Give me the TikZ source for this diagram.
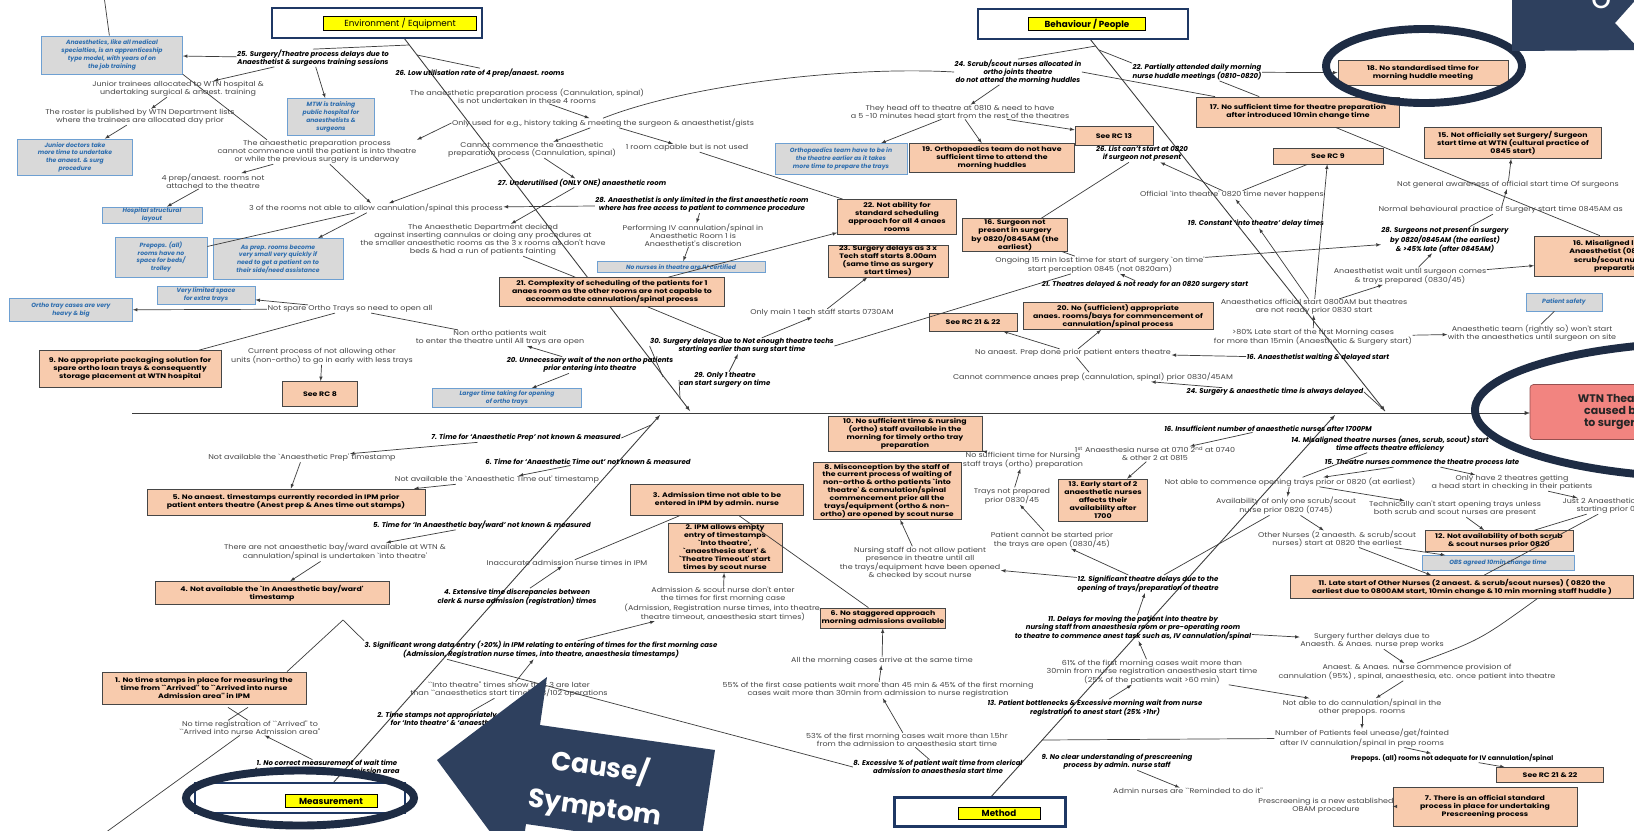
\documentclass[tikz,border=0pt]{standalone}
\usepackage{fontspec}
\setmainfont{Poppins}
\newfontfamily\widefont{Poppins}[FakeStretch=1.15]
\newfontfamily\boxfont{Poppins}[FakeStretch=1.2]
\usetikzlibrary{arrows,shapes,calc}
\definecolor{navy}{RGB}{46,64,94}
\definecolor{ringnavy}{RGB}{30,44,68}
\definecolor{catnavy}{RGB}{31,56,100}
\definecolor{peach}{RGB}{248,203,173}
\definecolor{boxline}{RGB}{70,70,70}
\definecolor{notefill}{RGB}{217,217,217}
\definecolor{noteline}{RGB}{110,160,210}
\definecolor{notetext}{RGB}{46,110,175}
\definecolor{txtgrey}{RGB}{70,70,70}
\definecolor{lngrey}{RGB}{60,60,60}
\definecolor{labyellow}{RGB}{255,255,0}
\definecolor{redbox}{RGB}{242,132,128}
\definecolor{redline}{RGB}{150,80,80}

\tikzset{
  tx/.style={align=center,inner sep=0.5pt,text=txtgrey,font=\widefont\fontsize{7.9}{9.1}\selectfont},
  bi/.style={align=center,inner sep=0.5pt,text=black,font=\fontsize{7.9}{9.1}\selectfont\bfseries\itshape},
  rc/.style 2 args={draw=boxline,fill=peach,line width=0.8pt,align=center,inner sep=1pt,
    font=\boxfont\fontsize{7.4}{9}\selectfont\bfseries,minimum width=#1*0.04cm,minimum height=#2*0.04cm},
  nt/.style 2 args={draw=noteline,fill=notefill,line width=0.8pt,align=center,inner sep=1pt,text=notetext,
    font=\fontsize{6.9}{8.8}\selectfont\bfseries\itshape,minimum width=#1*0.04cm,minimum height=#2*0.04cm},
  cat/.style 2 args={draw=catnavy,line width=2.6pt,fill=white,minimum width=#1*0.04cm,minimum height=#2*0.04cm},
  lab/.style 2 args={draw=black,fill=labyellow,line width=0.6pt,inner sep=0.5pt,
    minimum width=#1*0.04cm,minimum height=#2*0.04cm,font=\fontsize{10}{12}\selectfont},
  ln/.style={draw=lngrey,line width=0.8pt},
  ar/.style={ln,-latex},
  ring/.style={draw=ringnavy,line width=9pt},
}

\begin{document}
\begin{tikzpicture}[x=0.04cm,y=-0.04cm]
\useasboundingbox (0,0) rectangle (1634,830);
\clip (0,0) rectangle (1634,830);
\fill[white] (0,0) rectangle (1634,830);

% spine and main bones
\coordinate (spS) at (132,413); \coordinate (spE) at (1530,413);
\coordinate (envS) at (404,38); \coordinate (envE) at (690,411);
\coordinate (behS) at (1090,39); \coordinate (behE) at (1385,411);
\coordinate (meaS) at (333,783); \coordinate (meaE) at (660,415);
\coordinate (metS) at (990,798); \coordinate (metE) at (1335,415);
\coordinate (offTL) at (104,-4); \coordinate (offBL) at (98,838); \coordinate (offR) at (1645,340);
\coordinate (eb1) at (409,45); \coordinate (eb2) at (417,55);
\coordinate (eb4) at (663,377); \coordinate (eb5) at (680,398);
\coordinate (bb1) at (1096,46); \coordinate (bb2) at (1099,50);
\coordinate (mb7) at (651,425); \coordinate (mt1) at (1042,740);
\coordinate (pk) at (343,620);
\draw[ln,line width=1.1pt,-latex] (spS) -- (spE);
\draw[ln,line width=1pt,-latex] (envS) -- (envE);
\draw[ln,line width=1pt,-latex] (behS) -- (behE);
\draw[ln,line width=1pt,-latex] (meaS) -- (meaE);
\draw[ln,line width=1pt,-latex] (metS) -- (metE);

% categories
\node[cat={210}{30}] (envcat) at (377,23) {};
\node[lab={153}{14}] (envlab) at (400,23) {Environment / Equipment};
\node[cat={210}{30}] (behcat) at (1083,24) {};
\node[lab={117}{13},font=\fontsize{10}{12}\selectfont\bfseries] (behlab) at (1087,24) {Behaviour / People};
\node[cat={210}{30}] (meacat) at (300,798) {};
\node[lab={92}{13},font=\fontsize{10}{12}\selectfont\bfseries] (mealab) at (331,801) {Measurement};
\node[cat={171}{29}] (metcat) at (980,812) {};
\node[lab={82}{12},font=\fontsize{10}{12}\selectfont\bfseries] (metlab) at (999,813) {Method};

% environment / equipment
\node[nt={141}{38}] (n1) at (112,55) {Anaesthetics, like all medical\\specialties, is an apprenticeship\\type model, with years of on\\the job training};
\node[bi] (e25) at (313,58) {25. Surgery/Theatre process delays due to\\Anaesthetist \& surgeons training sessions};
\node[nt={87}{37}] (n2) at (331,117) {MTW is training\\public hospital for\\anaesthetists \&\\surgeons};
\node[tx] (junior) at (178,89) {Junior trainees allocated to WTN hospital \&\\undertaking surgical \& anaest. training};
\node[tx] (roster) at (140,117) {The roster is published by WTN Department lists\\where the trainees are allocated day prior};
\node[nt={115}{36}] (n3) at (75,157) {Junior doctors take\\more time to undertake\\the anaest. \& surg\\procedure};
\node[tx] (prep1) at (317,152) {The anaesthetic preparation process\\cannot commence until the patient is into theatre\\or while the previous surgery is underway};
\node[bi] (e26) at (480,73) {26. Low utilisation rate of 4 prep/anaest. rooms};
\node[tx] (notund) at (527,96) {The anaesthetic preparation process (Cannulation, spinal)\\is not undertaken in these 4 rooms};
\node[tx] (onlyused) at (603,123) {Only used for e.g., history taking \& meeting the surgeon \& anaesthetist/gists};
\node[tx] (oneroom) at (687,148) {1 room capable but is not used};
\node[tx] (cannot) at (532,150) {Cannot commence the anaesthetic\\preparation process (Cannulation, spinal)};
\node[bi] (e27) at (582,183) {27. Underutilised (ONLY ONE) anaesthetic room};
\node[tx] (rooms3) at (376,208) {3 of the rooms not able to allow cannulation/spinal this process};
\node[bi] (e28) at (702,205) {28. Anaesthetist is only limited in the first anaesthetic room\\where has free access to patient to commence procedure};
\node[tx] (dept) at (483,240) {The Anaesthetic Department decided\\against inserting cannulas or doing any procedures at\\the smaller anaesthetic rooms as the 3 x rooms as don't have\\beds \& had a run of patients fainting};
\node[nt={100}{16}] (n4) at (152,215) {Hospital structural\\layout};
\node[tx] (prep4) at (213,181) {4 prep/anaest. rooms not\\attached to the theatre};
\node[nt={92}{40}] (n5) at (161,257) {Prepops. (all)\\rooms have no\\space for beds/\\trolley};
\node[nt={130}{41}] (n6) at (278,259) {As prep. rooms become\\very small very quickly if\\need to get a patient on to\\their side/need assistance};
\node[nt={98}{18}] (n7) at (206,295) {Very limited space\\for extra trays};
\node[nt={123}{23}] (n8) at (71,310) {Ortho tray cases are very\\heavy \& big};
\node[tx] (spare) at (350,309) {Not spare Ortho Trays so need to open all};
\node[rc={182}{37}] (b9) at (130,369) {9. No appropriate packaging solution for\\spare ortho loan trays \& consequently\\storage placement at WTN hospital};
\node[tx] (current) at (322,356) {Current process of not allowing other\\units (non-ortho) to go in early with less trays};
\node[rc={75}{25}] (rc8) at (320,394) {See RC 8};
\node[tx] (nonortho) at (500,338) {Non ortho patients wait\\to enter the theatre until All trays are open};
\node[bi] (e20) at (590,365) {20. Unnecessary wait of the non ortho patients\\prior entering into theatre};
\node[nt={149}{19}] (n9) at (507,398) {Larger time taking for opening\\of ortho trays};
\node[bi] (e30) at (742,346) {30. Surgery delays due to Not enough theatre techs\\starting earlier than surg start time};
\node[bi] (e29) at (725,380) {29. Only 1 theatre\\can start surgery on time};
\node[tx] (tech) at (822,313) {Only main 1 tech staff starts 0730AM};
\node[rc={225}{29}] (b21) at (612,292) {21. Complexity of scheduling of the patients for 1\\anaes room as the other rooms are not capable to\\accommodate cannulation/spinal process};
\node[nt={168}{11}] (n10) at (681,267) {No nurses in theatre are IV certified};
\node[tx] (perf) at (693,235) {Performing IV cannulation/spinal in\\Anaesthetic Room 1 is\\Anaesthetist's discretion};
\node[rc={119}{35}] (b22) at (897,217) {22. Not ability for\\standard scheduling\\approach for all 4 anaes\\rooms};
\node[rc={120}{32}] (b23) at (888,261) {23. Surgery delays as 3 x\\Tech staff starts 8.00am\\(same time as surgery\\start times)};

% behaviour / people
\node[nt={132}{31}] (n11) at (841,159) {Orthopaedics team have to be in\\the theatre earlier as it takes\\more time to prepare the trays};
\node[rc={165}{29}] (b19) at (992,158) {19. Orthopaedics team do not have\\sufficient time to attend the\\morning huddles};
\node[rc={78}{19}] (rc13) at (1114,136) {See RC 13};
\node[tx] (head) at (960,112) {They head off to theatre at 0810 \& need to have\\a 5 -10 minutes head start from the rest of the theatres};
\node[bi] (b24) at (1018,72) {24. Scrub/scout nurses allocated in\\ortho joints theatre\\do not attend the morning huddles};
\node[bi] (b22l) at (1197,72) {22. Partially attended daily morning\\nurse huddle meetings (0810-0820)};
\node[rc={170}{25}] (b18) at (1423,73) {18. No standardised time for\\morning huddle meeting};
\node[rc={203}{30}] (b17) at (1298,112) {17. No sufficient time for theatre preparation\\after introduced 10min change time};
\node[rc={110}{16}] (rc9) at (1328,156) {See RC 9};
\node[rc={177}{31}] (b15) at (1513,143) {15. Not officially set Surgery/ Surgeon\\start time at WTN (cultural practice of\\0845 start)};
\node[tx] (aware) at (1508,185) {Not general awareness of official start time Of surgeons};
\node[tx,anchor=west] (normal) at (1378,210) {Normal behavioural practice of Surgery start time 0845AM as};
\node[rc={230}{40},anchor=west] (b16) at (1534,256) {16. Misaligned list start times between\\Anaesthetist (0800), surgeons (0845) \&\\scrub/scout nurses (0820) for theatre\\preparation/IV cannulation};
\node[bi] (e26L) at (1142,154) {26. List can't start at 0820\\if surgeon not present};
\node[tx] (official) at (1232,195) {Official `into theatre' 0820 time never happens};
\node[rc={105}{32}] (b16s) at (1015,235) {16. Surgeon not\\present in surgery\\by 0820/0845AM (the\\earliest)};
\node[tx] (ongoing) at (1100,265) {Ongoing 15 min lost time for start of surgery `on time'\\start perception 0845 (not 0820am)};
\node[bi] (e21) at (1145,285) {21. Theatres delayed \& not ready for an 0820 surgery start};
\node[bi] (e19) at (1256,224) {19. Constant `into theatre' delay times};
\node[bi] (e28s) at (1445,240) {28. Surgeons not present in surgery\\by 0820/0845AM (the earliest)\\\& >45\% late (after 0845AM)};
\node[tx] (anwait) at (1410,276) {Anaesthetist wait until surgeon comes\\\& trays prepared (0830/45)};
\node[nt={76}{18}] (psafe) at (1564,302) {Patient safety};
\node[tx] (anteam) at (1532,333) {Anaesthetic team (rightly so) won't start\\with the anaesthetics until surgeon on site};
\node[tx] (anoff) at (1314,307) {Anaesthetics official start 0800AM but theatres\\are not ready prior 0830 start};
\node[tx] (late80) at (1313,337) {>80\% Late start of the first Morning cases\\for more than 15min (Anaesthetic \& Surgery start)};
\node[bi] (e16a) at (1318,358) {16. Anaesthetist waiting \& delayed start};
\node[tx] (noprep) at (1073,353) {No anaest. Prep done prior patient enters theatre};
\node[rc={190}{27}] (b20) at (1118,316) {20. No (sufficient) appropriate\\anaes. rooms/bays for commencement of\\cannulation/spinal process};
\node[rc={88}{18}] (rc2122a) at (973,322) {See RC 21 \& 22};
\node[tx] (cancom) at (1093,377) {Cannot commence anaes prep (cannulation, spinal) prior 0830/45AM};
\node[bi] (e24d) at (1275,392) {24. Surgery \& anaesthetic time is always delayed};

% measurement
\node[bi] (m7) at (526,438) {7. Time for `Anaesthetic Prep' not known \& measured};
\node[tx] (naprep) at (302,458) {Not available the `Anaesthetic Prep' timestamp};
\node[rc={278}{26}] (b5) at (286,502) {5. No anaest. timestamps currently recorded in IPM prior\\patient enters theatre (Anest prep \& Anes time out stamps)};
\node[bi] (m6) at (588,462) {6. Time for `Anaesthetic Time out' not known \& measured};
\node[tx] (natime) at (497,480) {Not available the `Anaesthetic Time out' timestamp};
\node[bi] (m5) at (482,525) {5. Time for `In Anaesthetic bay/ward' not known \& measured};
\node[tx] (notbay) at (335,552) {There are not anaesthetic bay/ward available at WTN \&\\cannulation/spinal is undertaken `into theatre'};
\node[rc={234}{23}] (b4) at (272,593) {4. Not available the `In Anaesthetic bay/ward'\\timestamp};
\node[rc={173}{31}] (b3) at (717,500) {3. Admission time not able to be\\entered in IPM by admin. nurse};
\node[rc={114}{49}] (b2) at (725,548) {2. IPM allows empty\\entry of timestamps\\`Into theatre',\\`anaesthesia start' \&\\`Theatre Timeout' start\\times by scout nurse};
\node[tx] (inacc) at (567,563) {Inaccurate admission nurse times in IPM};
\node[bi] (m4) at (517,597) {4. Extensive time discrepancies between\\clerk \& nurse admission (registration) times};
\node[tx] (adm) at (723,604) {Admission \& scout nurse don't enter\\the times for first morning case\\(Admission, Registration nurse times, into theatre,\\theatre timeout, anaesthesia start times)};
\node[bi] (m3) at (541,650) {3. Significant wrong data entry (>20\%) in IPM relating to entering of times for the first morning case\\(Admission, Registration nurse times, into theatre, anaesthesia timestamps)};
\node[tx] (intoth) at (509,690) {``Into theatre'' times show that 3 are later\\than ``anaesthetics start time'' in 3/102 operations};
\node[bi] (m2) at (458,719) {2. Time stamps not appropriately used in IPM\\for `Into theatre' \& `anaesthesia start'};
\node[bi] (m1) at (327,767) {1. No correct measurement of wait time\\from admission to nurse admission area};
\node[tx] (noreg) at (250,728) {No time registration of ``Arrived'' to\\``Arrived into nurse Admission area''};
\node[rc={204}{32}] (b1) at (204,688) {1. No time stamps in place for measuring the\\time from ``Arrived'' to ``Arrived into nurse\\Admission area'' in IPM};

% method
\node[rc={154}{35}] (b10) at (905,434) {10. No sufficient time \& nursing\\(ortho) staff available in the\\morning for timely ortho tray\\preparation};
\node[rc={148}{57}] (b8) at (887,491) {8. Misconception by the staff of\\the current process of waiting of\\non-ortho \& ortho patients `into\\theatre' \& cannulation/spinal\\commencement prior all the\\trays/equipment (ortho \& non-\\ortho) are opened by scout nurse};
\node[rc={123}{20}] (b6) at (883,618) {6. No staggered approach\\morning admissions available};
\node[tx] (nosuff) at (1023,460) {No sufficient time for Nursing\\staff trays (ortho) preparation};
\node[tx] (trays) at (1012,496) {Trays not prepared\\prior 0830/45};
\node[rc={89}{42}] (b13) at (1103,500) {13. Early start of 2\\anaesthetic nurses\\affects their\\availability after\\1700};
\node[tx] (first) at (1155,454) {1\textsuperscript{st} Anaesthesia nurse at 0710 2\textsuperscript{nd} at 0740\\\& other 2 at 0815};
\node[bi] (m16) at (1268,429) {16. Insufficient number of anaesthetic nurses after 1700PM};
\node[tx] (patcan) at (1052,540) {Patient cannot be started prior\\the trays are open (0830/45)};
\node[tx] (nurstaff) at (920,563) {Nursing staff do not allow patient\\presence in theatre until all\\the trays/equipment have been opened\\\& checked by scout nurse};
\node[bi] (m12) at (1148,584) {12. Significant theatre delays due to the\\opening of trays/preparation of theatre};
\node[bi] (m11) at (1133,628) {11. Delays for moving the patient into theatre by\\nursing staff from anaesthesia room or pre-operating room\\to theatre to commence anest task such as, IV cannulation/spinal};
\node[tx] (p61) at (1152,672) {61\% of the first morning cases wait more than\\30min from nurse registration anaesthesia start time\\(25\% of the patients wait >60 min)};
\node[bi] (m13) at (1095,708) {13. Patient bottlenecks \& Excessive morning wait from nurse\\registration to anest start (25\% >1hr)};
\node[tx] (allmorn) at (882,661) {All the morning cases arrive at the same time};
\node[tx] (p55) at (878,690) {55\% of the first case patients wait more than 45 min \& 45\% of the first morning\\cases wait more than 30min from admission to nurse registration};
\node[tx] (p53) at (907,740) {53\% of the first morning cases wait more than 1.5hr\\from the admission to anaesthesia start time};
\node[bi] (m8) at (938,767) {8. Excessive \% of patient wait time from clerical\\admission to anaesthesia start time};
\node[bi] (m9) at (1117,762) {9. No clear understanding of prescreening\\process by admin. nurse staff};
\node[tx] (remind) at (1188,791) {Admin nurses are ``Reminded to do it''};
\node[tx] (newproc) at (1326,806) {Prescreening is a new established\\OBAM procedure};
\node[rc={184}{39}] (b7) at (1485,807) {7. There is an official standard\\process in place for undertaking\\Prescreening process};
\node[rc={107}{15}] (rc2122b) at (1550,775) {See RC 21 \& 22};
\node[tx,text=black,font=\fontsize{7.5}{9}\selectfont\bfseries] (prepops) at (1452,758) {Prepops. (all) rooms not adequate for IV cannulation/spinal};
\node[tx] (number) at (1362,738) {Number of Patients feel unease/get/fainted\\after IV cannulation/spinal in prep rooms};
\node[tx] (notable) at (1362,707) {Not able to do cannulation/spinal in the\\other prepops. rooms};
\node[tx] (anaest) at (1417,672) {Anaest. \& Anaes. nurse commence provision of\\cannulation (95\%) , spinal, anaesthesia, etc. once patient into theatre};
\node[tx] (further) at (1372,641) {Surgery further delays due to\\Anaesth. \& Anaes. nurse prep works};
\node[rc={343}{23}] (b11) at (1462,587) {11. Late start of Other Nurses (2 anaest. \& scrub/scout nurses) ( 0820 the\\earliest due to 0800AM start, 10min change \& 10 min morning staff huddle )};
\node[nt={152}{15}] (obs) at (1498,563) {OBS agreed 10min change time};
\node[rc={148}{21}] (b12) at (1499,541) {12. Not availability of both scrub\\\& scout nurses prior 0820};
\node[tx] (other) at (1337,539) {Other Nurses (2 anaesth. \& scrub/scout\\nurses) start at 0820 the earliest};
\node[tx] (avail) at (1286,506) {Availability of only one scrub/scout\\nurse prior 0820 (0745)};
\node[tx] (techn) at (1455,509) {Technically can't start opening trays unless\\both scrub and scout nurses are present};
\node[tx] (notcomm) at (1290,482) {Not able to commence opening trays prior or 0820 (at earliest)};
\node[bi] (m15) at (1422,463) {15. Theatre nurses commence the theatre process late};
\node[tx] (onlytwo) at (1512,483) {Only have 2 theatres getting\\a head start in checking in their patients};
\node[tx,anchor=west] (just2) at (1562,506) {Just 2 Anaesthetic nurses\\starting prior 0800};
\node[bi] (m14) at (1390,444) {14. Misaligned theatre nurses (anes, scrub, scout) start\\time affects theatre efficiency};

% connectors, environment
\draw[ln] (offTL) -- (n1);
\draw[ar] (e25) -- (n1);
\draw[ar] (e25) -- (n2);
\draw[ar] (e25) -- (junior);
\draw[ln] (e25.north) -- (eb1);
\draw[ar] (junior) -- (roster);
\draw[ar] (roster) -- (n3);
\draw[ln] (n1.south east) -- ($(prep1.north)+(-50,0)$);
\draw[ln] (eb2) -- (e26.north);
\draw[ar] (onlyused.west) -- (prep1.north east);
\draw[ar] (notund) -- (onlyused);
\draw[ar] (onlyused) -- (oneroom);
\draw[ar] (onlyused) -- (cannot);
\draw[ln] (b24.west) .. controls (850,66) and (690,84) .. (onlyused.north);
\draw[ln] (oneroom) -- (b22);
\draw[ar] (cannot) -- (rooms3);
\draw[ar] (cannot) -- (e27);
\draw[ar] (e28) -- (rooms3);
\draw[ar] (e27) -- (dept);
\draw[ar] (rooms3) -- (n6);
\draw[ln] (rooms3) -- (n5);
\draw[ar] (prep1) -- (prep4);
\draw[ar] (prep4) -- (n4);
\draw[ar] (prep1) -- (rooms3);
\draw[ar] (spare) -- (n8);
\draw[ar] (spare) -- (n7);
\draw[ln] (spare) -- (b9);
\draw[ar] (current) -- (rc8);
\draw[ln] (spare) -- (nonortho);
\draw[ar] (e20) -- (nonortho);
\draw[ar] (e20) -- (n9);
\draw[ln] (e30.west) -- (eb4);
\draw[ln] (e29.west) -- (eb5);
\draw[ar] (e30) -- (tech);
\draw[ar] (e29) -- (e30);
\draw[ar] (tech) -- (b23);
\draw[ln] (dept) -- (b21);
\draw[ar] (b21) -- (b22);
\draw[ln] (b21) -- (e30);
\draw[ar] (e28) -- (perf);
\draw[ar] (perf) -- (n10);
\draw[ln] (e30.east) -- (ongoing);

% connectors, behaviour
\draw[ln] (bb1) -- (b24.north);
\draw[ln] (bb2) -- (b22l.north west);
\draw[ln] (b24.east) -- (b17);
\draw[ln] (b22l) -- (b17);
\draw[ar] (b22l) -- (b18);
\draw[ar] (b24) -- (head);
\draw[ar] (head) -- (n11);
\draw[ar] (head) -- (b19);
\draw[ar] (head) -- (rc13);
\draw[ar] (official) -- (e26L);
\draw[ln] (e26L) -- (b16s);
\draw[ln] (rc9) -- (official);
\draw[ln] (b16s) -- (ongoing);
\draw[ar] (e21) -- (ongoing);
\draw[ar] (e19) -- (official);
\draw[ar] (anoff) -- (rc9);
\draw[ar] (anoff) -- (e19);
\draw[ar] (anoff) -- (anwait);
\draw[ar] (late80) -- (anoff);
\draw[ar] (late80) -- (anteam);
\draw[ln] (anteam) -- (psafe);
\draw[ar] (anwait) -- (e28s);
\draw[ar] (anwait) -- (b16);
\draw[ar] (normal) -- (aware);
\draw[ar] (aware) -- (b15);
\draw[ln] (normal) -- (e28s);
\draw[ln] (b17) -- (b16);
\draw[ln] (b16) -- (offR);
\draw[ar] (ongoing) -- (e28s);
\draw[ar] (e16a) -- (noprep);
\draw[ar] (noprep) -- (b20);
\draw[ar] (noprep) -- (rc2122a);
\draw[ln] (cancom) -- (noprep);
\draw[ar] (e24d) -- (cancom);
\draw[ln] (e24d.east) -- (behE);

% connectors, measurement
\draw[ln] (m7.east) -- (mb7);
\draw[ar] (m7) -- (naprep);
\draw[ar] (naprep) -- (b5);
\draw[ar] (m6) -- (natime);
\draw[ar] (natime) -- (b5);
\draw[ar] (m5) -- (notbay);
\draw[ar] (notbay) -- (b4);
\draw[ln] (b3) -- (inacc);
\draw[ar] (m4) -- (inacc);
\draw[ar] (adm) -- (b2);
\draw[ar] (m3) -- (adm);
\draw[ar] (intoth) -- (m3);
\draw[ln] ($(m3.south west)+(83,0)$) -- (m8.west);
\draw[ln] (m2) -- (intoth);
\draw[ar] (m1) -- (noreg);
\draw[ln] (offBL) -- (noreg);
\draw[ln] ($(b1.north)+(83,0)$) -- (pk) -- (m3.north west);
\draw[ln] ($(b1.south)+(24,3)$) -- ++(20,13) ($(b1.south)+(44,3)$) -- ++(-20,13);

% connectors, method
\draw[ar] (nosuff) -- (b10);
\draw[ar] (trays) -- (nosuff);
\draw[ar] (patcan) -- (trays);
\draw[ar] (m12) -- (patcan);
\draw[ar] (m12) -- (nurstaff);
\draw[ar] (nurstaff) -- (b8);
\draw[ar] (first) -- (b13);
\draw[ar] (m16) -- (first);
\draw[ar] (m11) -- (m12);
\draw[ln] (m12) -- (avail);
\draw[ar] (p61) -- (m11);
\draw[ar] (m13) -- (p61);
\draw[ar] (p61) -- (notable);
\draw[ar] (allmorn) -- (b6);
\draw[ar] (p55) -- (allmorn);
\draw[ar] (p53) -- (p55);
\draw[ln] (b3) -- (b6);
\draw[ln] (m8) -- (p53);
\draw[ar] (m9) -- (remind);
\draw[ar] (newproc) -- (b7);
\draw[ln] (mt1) -- (number);
\draw[ar] (prepops) -- (rc2122b);
\draw[ar] (number) -- (prepops);
\draw[ar] (notable) -- (number);
\draw[ar] (anaest) -- (notable);
\draw[ar] (further) -- (anaest);
\draw[ar] (m11) -- (further);
\draw[ln] (anaest.north) .. controls (1480,640) .. ($(b11.south)+(75,0)$);
\draw[ar] (other) -- (b11);
\draw[ar] (other) -- (obs);
\draw[ar] (avail) -- (other);
\draw[ar] (techn) -- (b12);
\draw[ar] (notcomm) -- (avail);
\draw[ar] (notcomm) -- (techn);
\draw[ar] (m15) -- (notcomm);
\draw[ar] (m15) -- (onlytwo);
\draw[ar] (onlytwo) -- (just2);
\draw[ln] (just2) -- (b12);
\draw[ln] (just2) -- (b11);
\draw[ln] (m14) -- (notcomm);

% effect box and highlights
\node[draw=redline,fill=redbox,rounded corners=4pt,line width=0.8pt,minimum width=230*0.04cm,minimum height=55*0.04cm,
  align=center,font=\fontsize{12.5}{13.5}\selectfont\bfseries,text=black!85] (effect) at (1645,412)
  {WTN Theatre delays are\\caused by `First case'\\to surgery start times};
\draw[ring] (1424,66) ellipse [x radius=3.92cm, y radius=1.48cm];
\draw[ring] (300,798) ellipse [x radius=4.56cm, y radius=1.1cm];
\draw[ring] (1720,410) ellipse [x radius=9.8cm, y radius=2.72cm];

\fill[navy] (1512,-5) -- (1640,-5) -- (1615,23) -- (1640,50) -- (1512,51) -- cycle;
\node[text=white,anchor=base,inner sep=0pt,font=\fontsize{36}{40}\selectfont] (tro) at (1602,8) {o};
\fill[navy] (437,760) -- (547,677) -- (540,725) -- (715,750) -- (700,849) -- (526,824) -- (519,871) -- cycle;
\node[text=white,rotate=-8,align=center,font=\fontsize{30}{46}\selectfont\bfseries] (cause) at (598,787) {Cause/\\Symptom};
\end{tikzpicture}
\end{document}
